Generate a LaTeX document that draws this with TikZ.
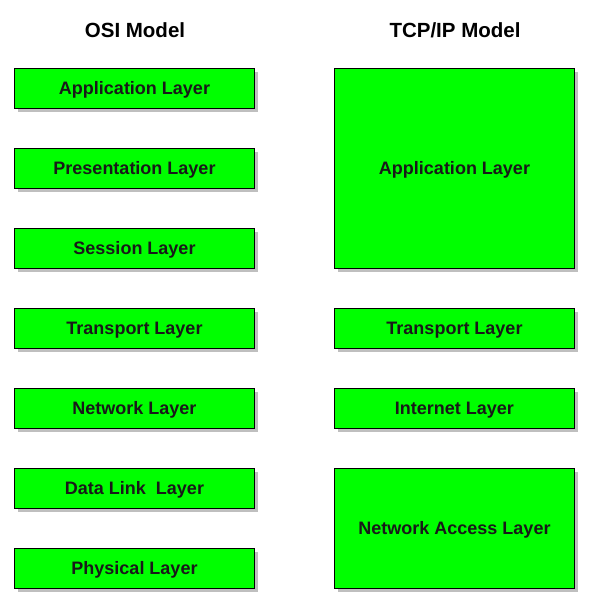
\documentclass[tikz,border=0pt]{standalone}
\usepackage{fontspec}
\setmainfont{Liberation Sans}
\begin{document}
\begin{tikzpicture}[x=1pt,y=-1pt,
  layer/.style={draw=black, line width=1pt, fill=green, minimum width=240pt, anchor=north west, inner sep=0pt,
    font=\fontsize{18}{21}\selectfont\bfseries, text=black!90, text height=12.9pt, text depth=0pt,
    preaction={fill=black!25, transform canvas={xshift=3pt,yshift=-3pt}}},
  title/.style={font=\fontsize{20.5}{24}\selectfont\bfseries}]
\useasboundingbox (0,0) rectangle (589,605);
\node[title] (osi) at (135,30) {OSI Model};
\node[title] (tcp) at (455,30) {TCP/IP Model};
\node[layer, minimum height=40pt] (o1) at (14,68) {Application Layer};
\node[layer, minimum height=40pt] (o2) at (14,148) {Presentation Layer};
\node[layer, minimum height=40pt] (o3) at (14,228) {Session Layer};
\node[layer, minimum height=40pt] (o4) at (14,308) {Transport Layer};
\node[layer, minimum height=40pt] (o5) at (14,388) {Network Layer};
\node[layer, minimum height=40pt] (o6) at (14,468) {Data Link~~Layer};
\node[layer, minimum height=40pt] (o7) at (14,548) {Physical Layer};
\node[layer, minimum height=200pt] (t1) at (334,68) {Application Layer};
\node[layer, minimum height=40pt] (t2) at (334,308) {Transport Layer};
\node[layer, minimum height=40pt] (t3) at (334,388) {Internet Layer};
\node[layer, minimum height=120pt] (t4) at (334,468) {Network Access Layer};
\end{tikzpicture}
\end{document}
